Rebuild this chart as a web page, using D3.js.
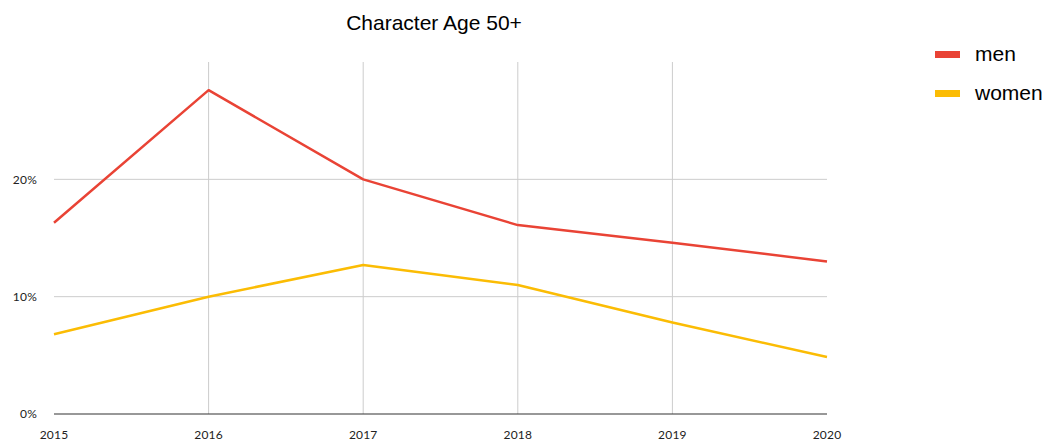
<!DOCTYPE html>
<html>
<head>
<meta charset="utf-8">
<script src="https://cdn.jsdelivr.net/npm/d3@7"></script>
<style>
  body { margin: 0; background: #fff; }
  .tick-label { font-family: Lato, "Open Sans", sans-serif; font-size: 12px; fill: #222; letter-spacing: 0.2px; }
</style>
</head>
<body>
<div id="chart"></div>
<script>
var years = [2015, 2016, 2017, 2018, 2019, 2020];
var men = [16.3, 27.6, 20.0, 16.1, 14.6, 13.0];
var women = [6.8, 10.0, 12.7, 11.0, 7.8, 4.85];
var yTicks = [0, 10, 20];
var seriesNames = ["men", "women"];
var colors = ["#e94335", "#fbbc04"];

const W = 1044, H = 441;
const margin = {top: 62, right: 217, bottom: 27, left: 54},
      width = W - margin.left - margin.right,
      height = H - margin.top - margin.bottom;

var svg = d3.select("#chart")
  .append("svg")
  .attr("width", W)
  .attr("height", H)
  .append("g")
  .attr("transform", "translate(" + margin.left + "," + margin.top + ")");

var x = d3.scaleLinear()
  .range([0, width])
  .domain(d3.extent(years));
var y = d3.scaleLinear()
  .range([height, 0])
  .domain([0, 30]);

// grid
svg.selectAll(".vgrid")
  .data(years.slice(1, -1))
  .enter()
  .append("line")
  .attr("x1", function(d) {return x(d);})
  .attr("x2", function(d) {return x(d);})
  .attr("y1", 0)
  .attr("y2", height)
  .style("stroke", "#cccccc");

svg.selectAll(".hgrid")
  .data(yTicks.slice(1))
  .enter()
  .append("line")
  .attr("x1", 0)
  .attr("x2", width)
  .attr("y1", function(d) {return y(d);})
  .attr("y2", function(d) {return y(d);})
  .style("stroke", "#cccccc");

svg.append("line")
  .attr("x1", 0)
  .attr("x2", width)
  .attr("y1", y(0))
  .attr("y2", y(0))
  .style("stroke", "#333")
  .style("stroke-width", 1.2);

// axis labels
svg.selectAll(".ylab")
  .data(yTicks)
  .enter()
  .append("text")
  .attr("class", "tick-label")
  .attr("x", -17)
  .attr("y", function(d) {return y(d);})
  .attr("dy", "0.35em")
  .style("text-anchor", "end")
  .text(function(d) {return d + "%";});

svg.selectAll(".xlab")
  .data(years)
  .enter()
  .append("text")
  .attr("class", "tick-label")
  .attr("x", function(d) {return x(d);})
  .attr("y", height + 25)
  .style("text-anchor", "middle")
  .text(function(d) {return d;});

// lines
var line = d3.line()
  .x(function(d, i) {return x(years[i]);})
  .y(function(d) {return y(d);});

[men, women].forEach(function(s, i) {
  svg.append("path")
    .datum(s)
    .attr("d", line)
    .style("fill", "none")
    .style("stroke", colors[i])
    .style("stroke-width", 2.5)
    .style("stroke-linejoin", "round");
});

// title
d3.select("svg").append("text")
  .attr("x", 434)
  .attr("y", 30)
  .style("text-anchor", "middle")
  .style("font-family", "'Liberation Sans', Arial, sans-serif")
  .style("font-size", "21px")
  .style("fill", "#000")
  .text("Character Age 50+");

// legend
var legend = d3.select("svg").append("g")
  .attr("transform", "translate(935,54)");
seriesNames.forEach(function(n, i) {
  legend.append("rect")
    .attr("x", 0)
    .attr("y", i * 39 - 3)
    .attr("width", 25)
    .attr("height", 7)
    .style("fill", colors[i]);
  legend.append("text")
    .attr("x", 40)
    .attr("y", i * 39)
    .attr("dy", "0.35em")
    .style("font-family", "'Liberation Sans', Arial, sans-serif")
    .style("font-size", "21px")
    .style("fill", "#000")
    .text(n);
});
</script>
</body>
</html>
